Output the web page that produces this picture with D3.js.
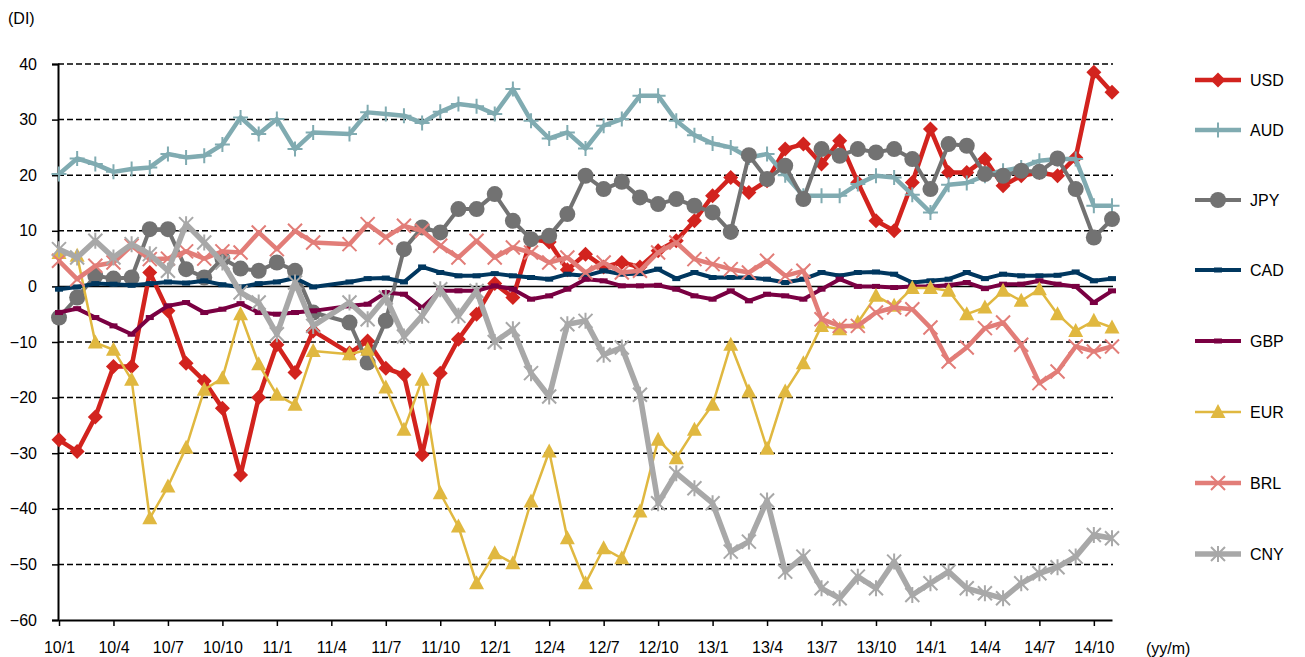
<!DOCTYPE html>
<html>
<head>
<meta charset="utf-8">
<script src="https://cdn.jsdelivr.net/npm/d3@7"></script>
<style>
  body { margin: 0; background: #fff; }
  text { font-family: Arial, "Liberation Sans", sans-serif; }
</style>
</head>
<body>
<script>
// categories (yy/m), 2011/4 has no survey
const months = [
	"10/1","10/2","10/3","10/4","10/5","10/6","10/7","10/8","10/9","10/10","10/11","10/12",
	"11/1","11/2","11/3","11/4","11/5","11/6","11/7","11/8","11/9","11/10","11/11","11/12",
	"12/1","12/2","12/3","12/4","12/5","12/6","12/7","12/8","12/9","12/10","12/11","12/12",
	"13/1","13/2","13/3","13/4","13/5","13/6","13/7","13/8","13/9","13/10","13/11","13/12",
	"14/1","14/2","14/3","14/4","14/5","14/6","14/7","14/8","14/9","14/10","14/11"
];
const tickLabels = ["10/1","10/4","10/7","10/10","11/1","11/4","11/7","11/10","12/1","12/4","12/7","12/10",
	"13/1","13/4","13/7","13/10","14/1","14/4","14/7","14/10"];
const yTicks = [40, 30, 20, 10, 0, -10, -20, -30, -40, -50, -60];

const usd = [-27.6,-29.7,-23.5,-14.4,-14.4,2.5,-4.4,-13.8,-17,-21.9,-33.9,-20,
	-10.5,-15.5,-8,null,-12,-9.8,-14.7,-15.9,-30.3,-15.6,-9.5,-5,
	0.5,-2,8.5,8,3,5.8,3.5,4.3,3.5,6.4,8.2,11.8,
	16.3,19.6,16.9,19,24.7,25.6,22,26.2,18.7,11.8,10,18.7,
	28.3,20.5,20.5,22.9,18.1,19.9,20.5,19.9,23.2,38.5,34.9];
const aud = [20.2,23,22,20.6,21.1,21.4,23.8,23.2,23.5,25.5,30.4,27.4,
	30.1,24.7,27.7,null,27.4,31.3,31,30.7,29.4,31.4,32.8,32.4,
	31,35.5,29.8,26.6,27.7,24.8,28.9,30.1,34.3,34.3,29.8,27.2,
	25.7,25,23.2,23.8,20,16.3,16.3,16.3,18.4,19.9,19.6,16.5,
	13.3,18.3,18.6,19.9,20.8,21.4,22.6,22.9,22.9,14.5,14.5];
const jpy = [-5.6,-2,1.9,1.4,1.6,10.3,10.3,3.1,1.6,5,3.2,2.8,
	4.3,2.8,-4.7,null,-6.5,-13.7,-6.2,6.7,10.6,9.7,13.9,13.9,
	16.6,11.8,8.5,9.1,13,19.9,17.5,18.8,16,14.8,15.7,14.5,
	13.3,9.8,23.6,19.3,21.7,15.7,24.7,23.5,24.7,24.1,24.7,22.9,
	17.5,25.6,25.3,20.2,19.9,20.8,20.6,23,17.5,8.8,12.1];
const cad = [-0.5,-0.1,0.5,0.4,0.2,0.5,0.8,0.6,1,0.3,-0.1,0.5,
	0.8,1.5,-0.1,null,0.8,1.4,1.5,0.8,3.5,2.5,1.9,1.9,
	2.3,1.9,1.6,1.3,2.2,1.9,2.8,2.2,2.3,3.1,1.4,2.5,
	1.6,1.6,1.6,1.3,0.7,1.3,2.5,1.9,2.5,2.6,2.2,0.7,
	1,1.3,2.5,1.4,2.2,1.9,1.9,2,2.6,1,1.4];
const gbp = [-4.7,-4,-5.6,-7.1,-8.6,-5.6,-3.5,-2.9,-4.7,-4.1,-3.1,-4.7,
	-5,-4.7,-4.4,null,-3.5,-3.2,-1.1,-1.4,-3.8,-0.8,-0.8,-0.8,
	0.1,-0.5,-2.3,-1.7,-0.5,1.3,1,0.1,0.1,0.2,-0.5,-1.7,
	-2.3,-0.8,-2.6,-1.4,-1.7,-2.3,-0.5,1.3,0,0,-0.2,0,
	0,0.2,0.7,-0.4,0.4,0.4,1,0.4,0,-2.9,-0.8];
const eur = [6,5.5,-10.1,-11.4,-16.8,-41.7,-36,-29,-18.6,-16.5,-5,-14,
	-19.5,-21.3,-11.6,null,-12.2,-11.4,-18.2,-25.8,-16.8,-37.2,-43.2,-53.4,
	-48,-49.8,-38.7,-29.7,-45.3,-53.4,-47.1,-48.9,-40.5,-27.6,-30.9,-25.8,
	-21.3,-10.5,-18.9,-29.2,-18.9,-13.8,-7.1,-7.7,-6.5,-1.7,-3.5,-0.3,
	-0.3,-0.8,-5,-3.8,-0.8,-2.6,-0.5,-5,-8,-6.2,-7.4];
const brl = [4.6,1.3,3.7,4.3,7.3,4.9,5,6.3,5,6.3,6.1,9.7,
	6.7,10,7.9,null,7.6,11.2,8.8,10.9,10,7.3,5.2,8.2,
	5.2,7,6.1,4.3,5.2,2.5,4.3,2.5,2.8,6.1,7.9,4.9,
	4,3.1,2.5,4.6,1.9,2.8,-5.9,-7.1,-7.1,-4.7,-3.8,-4.1,
	-7.4,-13.5,-11,-7.5,-6.5,-10.5,-17.4,-15.3,-10.8,-11.7,-10.8];
const cny = [6.7,5.2,8.2,5.2,7.6,5.8,2.8,11.2,7.9,4.3,-1.1,-2.9,
	-8.6,0.7,-7.1,null,-2.9,-5.9,-2,-9,-5.3,-0.5,-5.3,-0.8,
	-10,-7.7,-15.6,-19.8,-6.8,-6.2,-12.3,-11,-19.5,-39,-33.6,-36.3,
	-39,-47.7,-45.9,-38.5,-51.3,-48.6,-54.3,-56.1,-52.2,-54.3,-49.5,-55.5,
	-53.4,-51.3,-54.3,-55.2,-56.1,-53.4,-51.6,-50.5,-48.6,-44.7,-45.3];

const seriesNames = ["USD","AUD","JPY","CAD","GBP","EUR","BRL","CNY"];
const seriesValues = [usd, aud, jpy, cad, gbp, eur, brl, cny];

// styles
const styles = {
	USD: { color: "#d2231e", width: 4.5, marker: "diamond" },
	AUD: { color: "#80abb1", width: 4.5, marker: "plus" },
	JPY: { color: "#727272", width: 4, marker: "circle" },
	CAD: { color: "#00375f", width: 4, marker: "dash" },
	GBP: { color: "#7a0042", width: 4, marker: "dash" },
	EUR: { color: "#e0b840", width: 2.5, marker: "triangle" },
	BRL: { color: "#e27d78", width: 4.5, marker: "cross" },
	CNY: { color: "#a8a8a8", width: 5.5, marker: "star" }
};

const svgWidth = 1305;
const svgHeight = 657;

const svg = d3.select("body").append("svg")
	.attr("width", svgWidth)
	.attr("height", svgHeight);

const xScale = d3.scalePoint().domain(months).range([59, 1112]);
const yScale = d3.scaleLinear().domain([-60, 40]).range([620, 64]);

//grid
svg.append("g")
	.selectAll("line")
	.data(yTicks.filter(d => d !== -60))
	.join("line")
	.attr("x1", 58).attr("x2", 1113)
	.attr("y1", d => yScale(d)).attr("y2", d => yScale(d))
	.attr("stroke", "#000")
	.attr("stroke-width", 1.5)
	.attr("stroke-dasharray", d => d === 0 ? null : "6,3");

//y axis
const yAxis = svg.append("g")
	.attr("transform", "translate(58,0)")
	.call(d3.axisLeft(yScale).tickValues(yTicks).tickSize(6).tickPadding(15));
yAxis.select(".domain").attr("stroke-width", 2);
yAxis.selectAll(".tick line").attr("stroke-width", 1.5);
yAxis.selectAll("text").attr("font-size", 16).attr("fill", "#000")
	.style("font-family", "Arial, 'Liberation Sans', sans-serif");

//x axis
const xAxis = svg.append("g")
	.attr("transform", `translate(0,${yScale(-60)})`)
	.call(d3.axisBottom(xScale).tickValues(tickLabels).tickSize(6).tickSizeOuter(0).tickPadding(16));
xAxis.select(".domain").attr("stroke-width", 2);
xAxis.selectAll(".tick line").attr("stroke-width", 1.5);
xAxis.selectAll("text").attr("font-size", 16).attr("fill", "#000")
	.style("font-family", "Arial, 'Liberation Sans', sans-serif");

svg.append("text").attr("x", 8).attr("y", 24).attr("font-size", 16).text("(DI)");
svg.append("text").attr("x", 1146).attr("y", 654).attr("font-size", 16).text("(yy/m)");

// markers
function drawMarker(g, type, color) {
	const r = 7.5;
	if (type === "diamond") {
		g.append("path").attr("d", `M0,${-r}L${r},0L0,${r}L${-r},0Z`).attr("fill", color);
	} else if (type === "circle") {
		g.append("circle").attr("r", 8).attr("fill", color);
	} else if (type === "triangle") {
		g.append("path").attr("d", "M0,-8L7.5,6L-7.5,6Z").attr("fill", color);
	} else if (type === "plus") {
		g.append("path").attr("d", `M${-r},0H${r}M0,${-r}V${r}`).attr("stroke", color).attr("stroke-width", 2);
	} else if (type === "cross") {
		g.append("path").attr("d", "M-7,-7L7,7M-7,7L7,-7").attr("stroke", color).attr("stroke-width", 2);
	} else if (type === "star") {
		g.append("path").attr("d", "M-7,-7L7,7M-7,7L7,-7M0,-8V8").attr("stroke", color).attr("stroke-width", 2);
	} else if (type === "dash") {
		g.append("rect").attr("x", -4).attr("y", -2.5).attr("width", 8).attr("height", 5).attr("fill", color);
	}
}

const line = d3.line()
	.x(d => xScale(d.month))
	.y(d => yScale(d.value));

seriesNames.forEach((name, k) => {
	const st = styles[name];
	const pts = months.map((m, i) => ({ month: m, value: seriesValues[k][i] }))
		.filter(d => d.value !== null);
	const g = svg.append("g").attr("class", "series-" + name);
	g.append("path")
		.datum(pts)
		.attr("d", line)
		.attr("fill", "none")
		.attr("stroke", st.color)
		.attr("stroke-width", st.width)
		.attr("stroke-linejoin", "round");
	g.selectAll(".mk")
		.data(pts)
		.join("g")
		.attr("class", "mk")
		.attr("transform", d => `translate(${xScale(d.month)},${yScale(d.value)})`)
		.each(function () { drawMarker(d3.select(this), st.marker, st.color); });
});

//legend
const legendY = [80, 130, 200, 270, 341, 412, 483, 554];
seriesNames.forEach((name, k) => {
	const st = styles[name];
	const lg = svg.append("g").attr("transform", `translate(1195,${legendY[k]})`);
	lg.append("line").attr("x1", 0).attr("x2", 46).attr("stroke", st.color).attr("stroke-width", st.width);
	drawMarker(lg.append("g").attr("transform", "translate(23,0)"), st.marker, st.color);
	lg.append("text").attr("x", 55).attr("y", 6).attr("font-size", 16).text(name);
});
</script>
</body>
</html>
